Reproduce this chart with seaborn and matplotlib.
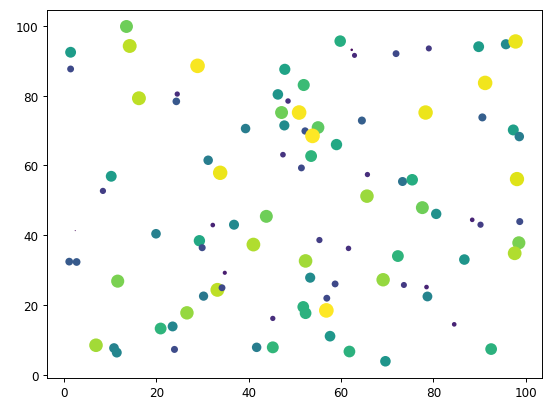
import numpy as np
import pandas as pd
import matplotlib
matplotlib.use("Agg")
import matplotlib.pyplot as plt
import seaborn as sns

# punkty: x, y, wartosc (kolor i rozmiar)
x = [13.5, 1.4, 1.4, 14.2, 28.9, 16.2, 24.5, 24.3, 39.3, 47.8,
     46.3, 48.5, 47.1, 47.7, 47.4, 31.2, 33.8, 10.2, 8.4,
     59.8, 62.3, 62.9, 71.9, 79.0, 89.8, 95.7, 97.8, 91.2, 51.9,
     50.9, 78.3, 64.5, 90.6, 52.2, 55.0, 53.8, 59.0, 53.5, 51.4,
     65.7, 73.3, 75.4, 97.3, 98.6, 98.1, 65.6,
     2.4, 19.9, 32.2, 36.8, 43.8, 29.3, 29.9, 41.0, 1.1, 2.7,
     11.6, 34.8, 33.2, 34.2, 30.2, 26.6, 20.9, 23.5, 6.9, 10.8,
     11.4, 23.9, 41.7, 45.2, 45.2,
     77.6, 80.6, 88.4, 90.2, 98.7, 55.3, 61.6, 98.5, 97.6, 52.3,
     72.3, 86.7, 53.3, 58.7, 69.1, 73.6, 78.5, 78.7, 56.9, 51.8,
     52.3, 56.8, 84.5, 57.6, 61.8, 92.5, 69.6]
y = [99.9, 92.5, 87.7, 94.3, 88.6, 79.3, 80.5, 78.4, 70.6, 87.6,
     80.4, 78.5, 75.2, 71.5, 63.1, 61.5, 57.9, 56.9, 52.7,
     95.7, 93.2, 91.6, 92.1, 93.6, 94.1, 94.8, 95.6, 83.7, 83.1,
     75.2, 75.2, 72.9, 73.8, 69.9, 70.9, 68.5, 66.0, 62.7, 59.3,
     57.4, 55.4, 55.9, 70.2, 68.3, 56.1, 51.2,
     41.3, 40.4, 42.9, 43.0, 45.4, 38.4, 36.4, 37.3, 32.4, 32.3,
     26.8, 29.2, 24.3, 24.9, 22.5, 17.7, 13.2, 13.8, 8.4, 7.6,
     6.3, 7.2, 7.8, 7.8, 16.1,
     47.9, 46.1, 44.4, 43.0, 43.9, 38.6, 36.2, 37.8, 34.8, 32.6,
     34.0, 33.0, 27.8, 26.0, 27.2, 25.7, 25.1, 22.4, 21.9, 19.4,
     17.6, 18.4, 14.4, 11.0, 6.6, 7.3, 3.8]
wartosc = [0.78, 0.55, 0.22, 0.90, 0.99, 0.90, 0.13, 0.27, 0.42, 0.58,
           0.52, 0.14, 0.78, 0.48, 0.15, 0.42, 0.97, 0.55, 0.18,
           0.62, 0.03, 0.12, 0.22, 0.17, 0.55, 0.48, 0.97, 0.98, 0.68,
           0.99, 0.97, 0.30, 0.30, 0.25, 0.75, 1.00, 0.60, 0.65, 0.22,
           0.13, 0.38, 0.62, 0.56, 0.42, 0.95, 0.85,
           0.005, 0.43, 0.10, 0.47, 0.78, 0.60, 0.23, 0.88, 0.28, 0.28,
           0.80, 0.08, 0.90, 0.22, 0.40, 0.84, 0.65, 0.46, 0.86, 0.44,
           0.46, 0.23, 0.42, 0.66, 0.13,
           0.78, 0.50, 0.10, 0.18, 0.23, 0.18, 0.14, 0.80, 0.88, 0.86,
           0.65, 0.52, 0.48, 0.22, 0.84, 0.17, 0.10, 0.45, 0.22, 0.64,
           0.64, 1.00, 0.10, 0.53, 0.64, 0.64, 0.52]

df = pd.DataFrame({"x": x, "y": y, "v": wartosc})

fig = plt.figure(figsize=(6.4, 413 / 86.25), dpi=86.25)
ax = fig.add_axes([0.0846, 0.0823, 0.9824 - 0.0846, 0.974 - 0.0823])
sns.scatterplot(data=df, x="x", y="y", hue="v", size="v", palette="viridis",
                hue_norm=(0, 1), size_norm=(0, 1), sizes=(0, 150),
                linewidth=0, legend=False, ax=ax)
ax.set_xlabel("")
ax.set_ylabel("")
ax.set_xticks([0, 20, 40, 60, 80, 100])
ax.set_yticks([0, 20, 40, 60, 80, 100])
fig.savefig("out.png", dpi=86.25)
